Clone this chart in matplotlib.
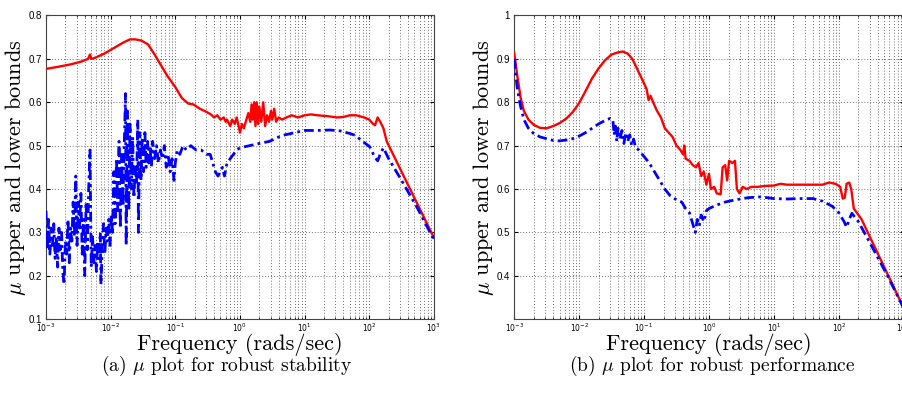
import numpy as np
import matplotlib
matplotlib.use('Agg')
import matplotlib.pyplot as plt
from matplotlib.ticker import LogLocator, NullFormatter

# ---- (a) robust stability: log10(frequency) and mu bounds ----
a_upper_exp = [-3.00, -2.80, -2.60, -2.45, -2.35, -2.32, -2.30, -2.25, -2.10, -1.95,
               -1.80, -1.70, -1.62, -1.52, -1.42, -1.32, -1.22, -1.12, -1.00, -0.90,
               -0.80, -0.72, -0.62, -0.52, -0.45, -0.40, -0.35, -0.30, -0.25, -0.22,
               -0.20, -0.15, -0.12, -0.08, -0.05, -0.02, 0.00, 0.03, 0.06, 0.10,
               0.13, 0.16, 0.18, 0.20, 0.22, 0.24, 0.26, 0.28, 0.30, 0.33,
               0.36, 0.39, 0.42, 0.45, 0.48, 0.50, 0.53, 0.56, 0.60, 0.65,
               0.72, 0.80, 0.90, 1.00, 1.10, 1.20, 1.35, 1.50, 1.60, 1.70,
               1.80, 1.92, 2.00, 2.06, 2.09, 2.13, 2.17, 2.22, 2.27, 3.00]
a_upper = [0.677, 0.682, 0.688, 0.694, 0.700, 0.710, 0.700, 0.702, 0.712, 0.725,
           0.738, 0.745, 0.745, 0.742, 0.733, 0.710, 0.685, 0.660, 0.635, 0.610,
           0.597, 0.595, 0.585, 0.578, 0.572, 0.565, 0.570, 0.560, 0.565, 0.555,
           0.560, 0.545, 0.560, 0.550, 0.565, 0.545, 0.530, 0.550, 0.540, 0.560,
           0.575, 0.555, 0.595, 0.560, 0.600, 0.545, 0.600, 0.550, 0.590, 0.555,
           0.600, 0.545, 0.570, 0.555, 0.580, 0.560, 0.585, 0.555, 0.565, 0.560,
           0.565, 0.570, 0.565, 0.570, 0.572, 0.570, 0.568, 0.565, 0.566, 0.570,
           0.570, 0.565, 0.560, 0.550, 0.547, 0.565, 0.555, 0.540, 0.510, 0.288]

a_lower_exp = [-3.00, -2.98, -2.96, -2.94, -2.92, -2.90, -2.88, -2.86, -2.84, -2.82,
               -2.80, -2.78, -2.76, -2.74, -2.72, -2.70, -2.68, -2.66, -2.64, -2.62,
               -2.60, -2.58, -2.56, -2.54, -2.52, -2.50, -2.48, -2.46, -2.44, -2.42,
               -2.40, -2.38, -2.36, -2.34, -2.32, -2.30, -2.28, -2.26, -2.24, -2.22,
               -2.20, -2.18, -2.16, -2.15, -2.13, -2.11, -2.09, -2.07, -2.05, -2.03,
               -2.01, -1.99, -1.97, -1.95, -1.93, -1.91, -1.89, -1.87, -1.85, -1.83,
               -1.81, -1.79, -1.77, -1.76, -1.74, -1.72, -1.70, -1.68, -1.66, -1.64,
               -1.62, -1.60, -1.58, -1.57, -1.55, -1.53, -1.51, -1.49, -1.47, -1.45,
               -1.43, -1.41, -1.39, -1.37, -1.35, -1.32, -1.29, -1.26, -1.23, -1.20,
               -1.17, -1.14, -1.11, -1.08, -1.05, -1.02, -1.00, -0.97, -0.93, -0.88,
               -0.83, -0.76, -0.68, -0.60, -0.52, -0.46, -0.42, -0.38, -0.34, -0.30,
               -0.27, -0.24, -0.20, -0.15, -0.10, -0.05, 0.00, 0.15, 0.30, 0.46,
               0.60, 0.70, 0.85, 1.00, 1.20, 1.39, 1.55, 1.70, 1.78, 1.90,
               2.01, 2.08, 2.13, 2.17, 2.22, 2.30, 2.50, 2.75, 3.00]
a_lower = [0.35, 0.26, 0.33, 0.25, 0.31, 0.27, 0.32, 0.24, 0.29, 0.22,
           0.31, 0.26, 0.30, 0.21, 0.18, 0.28, 0.25, 0.33, 0.23, 0.31,
           0.28, 0.37, 0.29, 0.43, 0.27, 0.37, 0.31, 0.39, 0.25, 0.33,
           0.20, 0.37, 0.26, 0.40, 0.49, 0.22, 0.29, 0.23, 0.27, 0.21,
           0.28, 0.24, 0.30, 0.18, 0.27, 0.32, 0.25, 0.31, 0.28, 0.33,
           0.27, 0.34, 0.30, 0.44, 0.32, 0.47, 0.35, 0.51, 0.31, 0.48,
           0.36, 0.50, 0.62, 0.27, 0.58, 0.35, 0.55, 0.40, 0.52, 0.38,
           0.45, 0.41, 0.56, 0.30, 0.53, 0.42, 0.52, 0.44, 0.53, 0.45,
           0.51, 0.46, 0.50, 0.45, 0.51, 0.47, 0.50, 0.46, 0.49, 0.47,
           0.50, 0.45, 0.48, 0.44, 0.47, 0.42, 0.46, 0.49, 0.48, 0.50,
           0.49, 0.50, 0.49, 0.49, 0.48, 0.48, 0.46, 0.44, 0.43, 0.44,
           0.45, 0.43, 0.46, 0.47, 0.48, 0.49, 0.495, 0.50, 0.505, 0.51,
           0.52, 0.525, 0.53, 0.535, 0.535, 0.536, 0.534, 0.528, 0.524, 0.51,
           0.497, 0.475, 0.465, 0.48, 0.495, 0.47, 0.42, 0.355, 0.283]

# ---- (b) robust performance ----
b_upper_exp = [-3.00, -2.95, -2.90, -2.85, -2.78, -2.70, -2.60, -2.50, -2.40, -2.30,
               -2.20, -2.10, -2.00, -1.90, -1.80, -1.70, -1.60, -1.50, -1.40, -1.33,
               -1.25, -1.18, -1.10, -1.02, -0.96, -0.93, -0.90, -0.86, -0.80, -0.74,
               -0.68, -0.62, -0.56, -0.50, -0.44, -0.40, -0.38, -0.36, -0.30, -0.25,
               -0.20, -0.16, -0.12, -0.08, -0.04, 0.00, 0.03, 0.08, 0.12, 0.18,
               0.21, 0.25, 0.28, 0.31, 0.36, 0.40, 0.43, 0.47, 0.52, 0.58,
               0.65, 0.75, 0.85, 1.00, 1.10, 1.20, 1.40, 1.60, 1.75, 1.85,
               1.95, 2.02, 2.06, 2.09, 2.12, 2.16, 2.19, 2.23, 2.35, 3.00]
b_upper = [0.915, 0.860, 0.810, 0.780, 0.760, 0.748, 0.741, 0.740, 0.745, 0.752,
           0.762, 0.777, 0.798, 0.826, 0.855, 0.878, 0.897, 0.910, 0.915, 0.917,
           0.912, 0.900, 0.875, 0.850, 0.830, 0.805, 0.815, 0.800, 0.780, 0.765,
           0.740, 0.730, 0.720, 0.700, 0.690, 0.680, 0.700, 0.670, 0.665, 0.655,
           0.650, 0.660, 0.630, 0.640, 0.610, 0.635, 0.600, 0.605, 0.590, 0.588,
           0.650, 0.655, 0.620, 0.665, 0.660, 0.665, 0.600, 0.590, 0.605, 0.600,
           0.605, 0.605, 0.607, 0.608, 0.612, 0.610, 0.610, 0.610, 0.610, 0.615,
           0.612, 0.605, 0.578, 0.580, 0.612, 0.615, 0.600, 0.555, 0.530, 0.325]

b_lower_exp = [-3.00, -2.95, -2.90, -2.85, -2.78, -2.70, -2.60, -2.50, -2.40, -2.30,
               -2.20, -2.10, -2.00, -1.90, -1.80, -1.70, -1.60, -1.52, -1.48, -1.46,
               -1.44, -1.42, -1.40, -1.37, -1.34, -1.31, -1.28, -1.25, -1.22, -1.19,
               -1.16, -1.13, -1.08, -1.00, -0.92, -0.84, -0.76, -0.68, -0.60, -0.50,
               -0.42, -0.36, -0.30, -0.25, -0.21, -0.18, -0.15, -0.12, -0.08, -0.04,
               0.00, 0.10, 0.25, 0.40, 0.60, 0.80, 1.00, 1.20, 1.40, 1.60,
               1.75, 1.90, 2.00, 2.08, 2.12, 2.16, 2.20, 2.30, 2.50, 2.75, 3.00]
b_lower = [0.900, 0.830, 0.790, 0.760, 0.740, 0.728, 0.720, 0.716, 0.712, 0.711,
           0.713, 0.716, 0.722, 0.730, 0.740, 0.750, 0.758, 0.763, 0.760, 0.725,
           0.745, 0.710, 0.740, 0.715, 0.735, 0.705, 0.730, 0.710, 0.725, 0.700,
           0.715, 0.695, 0.690, 0.675, 0.660, 0.640, 0.620, 0.600, 0.585, 0.575,
           0.570, 0.555, 0.545, 0.520, 0.500, 0.530, 0.515, 0.540, 0.525, 0.550,
           0.555, 0.562, 0.570, 0.575, 0.580, 0.582, 0.578, 0.577, 0.578, 0.578,
           0.572, 0.560, 0.545, 0.525, 0.512, 0.530, 0.544, 0.525, 0.470, 0.400, 0.325]

plt.rcParams['mathtext.fontset'] = 'cm'
label_font = ['cmr10', 'DejaVu Serif']

fig = plt.figure(figsize=(9.02, 3.97), dpi=100)
ax_a = fig.add_axes([0.051, 0.196, 0.430, 0.765])
ax_b = fig.add_axes([0.570, 0.196, 0.432, 0.765])

panels = [
    (ax_a, a_upper_exp, a_upper, a_lower_exp, a_lower, (0.1, 0.8),
     [0.1, 0.2, 0.3, 0.4, 0.5, 0.6, 0.7, 0.8],
     ['0.1', '0.2', '0.3', '0.4', '0.5', '0.6', '0.7', '0.8']),
    (ax_b, b_upper_exp, b_upper, b_lower_exp, b_lower, (0.3, 1.0),
     [0.4, 0.5, 0.6, 0.7, 0.8, 0.9, 1.0],
     ['0.4', '0.5', '0.6', '0.7', '0.8', '0.9', '1']),
]

grid_style = dict(linestyle=(0, (1, 2.5)), color='0.25', lw=0.6)

for ax, ue, uv, le, lv, ylim, yt, ytl in panels:
    ax.plot(10.0 ** np.array(ue), uv, color='#ff0000', lw=1.7, zorder=3)
    ax.plot(10.0 ** np.array(le), lv, color='#0000ff', lw=2.0,
            linestyle=(0, (3.5, 1.5, 1, 1.5)), zorder=3)
    ax.set_xscale('log')
    ax.set_xlim(1e-3, 1e3)
    ax.set_ylim(*ylim)
    ax.set_yticks(yt)
    ax.set_yticklabels(ytl)
    ax.xaxis.set_major_locator(LogLocator(base=10, numticks=10))
    ax.xaxis.set_minor_locator(LogLocator(base=10, subs=np.arange(2, 10), numticks=20))
    ax.xaxis.set_minor_formatter(NullFormatter())
    ax.grid(True, which='major', axis='both', **grid_style)
    ax.grid(True, which='minor', axis='x', **grid_style)
    ax.tick_params(which='both', direction='in', top=True, right=True)
    ax.tick_params(which='major', length=3, labelsize=5.5)
    ax.tick_params(axis='x', which='major', pad=2)
    ax.tick_params(axis='y', which='major', pad=3)
    ax.tick_params(which='minor', length=1.5)
    for lab in ax.get_yticklabels():
        lab.set_family('Liberation Sans')
        lab.set_fontsize(7)
    ax.set_xlabel('Frequency (rads/sec)', family=label_font, fontsize=16, labelpad=-1)
    ax.set_ylabel(r'$\mu$ upper and lower bounds', family=label_font, fontsize=16,
                  labelpad=0)
    for sp in ax.spines.values():
        sp.set_color('#444444')
        sp.set_linewidth(0.8)

fig.text(0.251, 0.078, r'(a) $\mu$ plot for robust stability', family=label_font,
         fontsize=14, ha='center', va='center')
fig.text(0.790, 0.078, r'(b) $\mu$ plot for robust performance', family=label_font,
         fontsize=14, ha='center', va='center')

fig.savefig('out.png', dpi=100)
